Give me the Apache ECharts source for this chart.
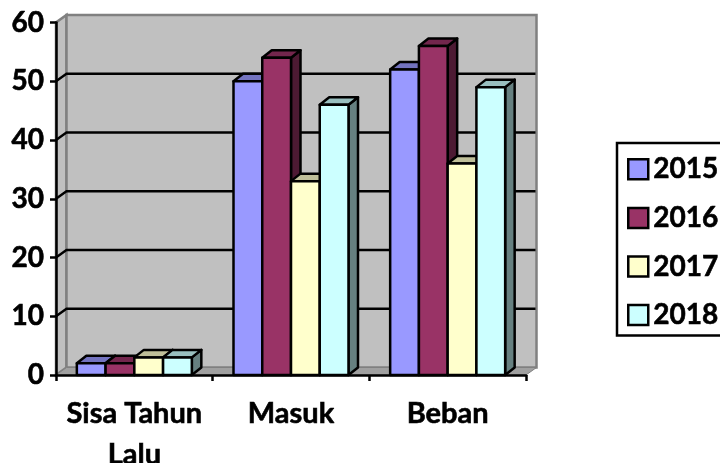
<!DOCTYPE html>
<html><head><meta charset="utf-8">
<style>html,body{margin:0;padding:0;background:#fff;overflow:hidden}#c{width:720px;height:463px}</style>
<script src="https://cdn.jsdelivr.net/npm/echarts@6/dist/echarts.min.js"></script>
</head><body><div id="c"></div>
<script>
const categories = ['Sisa Tahun\nLalu', 'Masuk', 'Beban'];
const years = ['2015', '2016', '2017', '2018'];
const v2015 = [2, 50, 52];
const v2016 = [2, 54, 56];
const v2017 = [3, 33, 36];
const v2018 = [3, 46, 49];
const yTicks = [0, 10, 20, 30, 40, 50, 60];
const seriesValues = [v2015, v2016, v2017, v2018];
const front = ['#9999ff', '#993366', '#ffffcc', '#ccffff'];
const topFace = ['#7373bf', '#73264d', '#bfbf99', '#99bfbf'];
const sideFace = ['#4d4d80', '#4d1a33', '#808066', '#668080'];
const wallDx = 10.5, wallDy = 7.5, barDx = 9.5, barDy = 7.5, barFrac = 0.1835;

const font = 'Lato, "Open Sans", sans-serif';
const heavy = {textBorderColor: '#000', textBorderWidth: 0.6};
const chart = echarts.init(document.getElementById('c'), null, {renderer: 'canvas'});

function wallItem(params, api) {
  const lb = api.coord([0, 0]), cw = api.size([1, 0])[0];
  const x0 = lb[0] - cw / 2, x1 = x0 + 3 * cw, y0 = lb[1], y1 = api.coord([0, 60])[1];
  const gray = '#808080';
  return {type: 'group', children: [
    {type: 'polygon', shape: {points: [[x0, y0], [x0 + wallDx, y0 - wallDy], [x0 + wallDx, y1 - wallDy], [x0, y1]]},
      style: {fill: '#c0c0c0', stroke: gray, lineWidth: 2.5}},
    {type: 'rect', shape: {x: x0 + wallDx, y: y1 - wallDy, width: x1 - x0, height: y0 - y1},
      style: {fill: '#c0c0c0', stroke: gray, lineWidth: 2.5}},
    {type: 'polygon', shape: {points: [[x0, y0], [x0 + wallDx, y0 - wallDy], [x1 + wallDx, y0 - wallDy], [x1, y0]]},
      style: {fill: '#a0a0a0', stroke: gray, lineWidth: 1}}
  ]};
}
function gridItem(params, api) {
  const p = api.coord([0, api.value(0)]), cw = api.size([1, 0])[0];
  const x0 = p[0] - cw / 2, x1 = x0 + 3 * cw, y = p[1];
  return {type: 'polyline', shape: {points: [[x0, y], [x0 + wallDx, y - wallDy], [x1 + wallDx - 1, y - wallDy]]},
    style: {fill: 'none', stroke: '#000', lineWidth: 2.4}};
}
function barRenderer(s) {
  return function (params, api) {
    const cat = api.value(0), val = api.value(1);
    const c = api.coord([cat, val]), b = api.coord([cat, 0]), cw = api.size([1, 0])[0];
    const w = cw * barFrac, xl = c[0] + (s - 2) * w, xr = xl + w, yt = c[1], yb = b[1];
    const st = {stroke: '#000', lineWidth: 2.5, lineJoin: 'round'};
    return {type: 'group', children: [
      {type: 'polygon', shape: {points: [[xr, yt], [xr + barDx, yt - barDy], [xr + barDx, yb - barDy], [xr, yb]]},
        style: Object.assign({fill: sideFace[s]}, st)},
      {type: 'polygon', shape: {points: [[xl, yt], [xl + barDx, yt - barDy], [xr + barDx, yt - barDy], [xr, yt]]},
        style: Object.assign({fill: topFace[s]}, st)},
      {type: 'rect', shape: {x: xl, y: yt, width: w, height: yb - yt},
        style: Object.assign({fill: front[s]}, st)}
    ]};
  };
}

const series = [
  {type: 'custom', name: 'wall', silent: true, z: 1, renderItem: wallItem, data: [[0]], encode: {x: 0, y: -1}},
  {type: 'custom', name: 'grid', silent: true, z: 1.5, renderItem: gridItem,
    data: yTicks.filter(t => t > 0 && t < 60).map(t => [t]), encode: {y: 0, x: -1}}
];
years.forEach((y, s) => series.push({
  type: 'custom', name: y, z: 3 + s, renderItem: barRenderer(s),
  itemStyle: {color: front[s], borderColor: '#000', borderWidth: 2.5},
  encode: {x: 0, y: 1},
  data: seriesValues[s].map((v, i) => [i, v])
}));

chart.setOption({
  animation: false,
  backgroundColor: '#fff',
  tooltip: {show: false},
  grid: {left: 56, right: 194, top: 22.5, bottom: 88, containLabel: false, outerBoundsMode: 'none'},
  xAxis: {type: 'category', data: categories, z: 20,
    axisLine: {show: true, lineStyle: {color: '#000', width: 2.5}},
    axisTick: {show: true, length: 6, lineStyle: {color: '#000', width: 2.5}, alignWithLabel: false},
    axisLabel: Object.assign({color: '#000', fontFamily: font, fontWeight: 'bold', fontSize: 29, lineHeight: 41, margin: 18, interval: 0}, heavy),
    splitLine: {show: false}},
  yAxis: {type: 'value', min: 0, max: 60, interval: 10, z: 20,
    axisLine: {show: true, lineStyle: {color: '#000', width: 2.5}},
    axisTick: {show: true, length: 6, lineStyle: {color: '#000', width: 2.5}},
    axisLabel: Object.assign({color: '#000', fontFamily: font, fontWeight: 'bold', fontSize: 28, margin: 12, padding: [3, 0, 0, 0]}, heavy),
    splitLine: {show: false}},
  legend: {data: years, orient: 'vertical', left: 617, top: 143, icon: 'rect', itemWidth: 20, itemHeight: 20,
    itemGap: 20, padding: [12, 10, 6, 10], borderColor: '#000', borderWidth: 2.5, backgroundColor: '#fff',
    selectedMode: false, align: 'left',
    textStyle: Object.assign({color: '#000', fontFamily: font, fontWeight: 'bold', fontSize: 28, lineHeight: 28}, heavy),
    itemStyle: {borderColor: '#000', borderWidth: 2.5}},
  series
});
</script></body></html>
